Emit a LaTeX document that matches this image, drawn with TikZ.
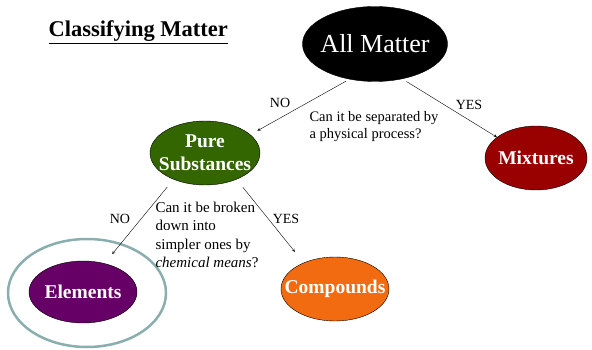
\documentclass[tikz,border=0pt]{standalone}
\usepackage{fontspec}
\setmainfont{Liberation Serif}
\usetikzlibrary{shapes.geometric}

\definecolor{puregreen}{HTML}{336600}
\definecolor{mixred}{HTML}{990000}
\definecolor{elempurple}{HTML}{660066}
\definecolor{comporange}{HTML}{F26B10}
\definecolor{ringgrey}{HTML}{8AADAE}

\begin{document}
\begin{tikzpicture}[x=1pt,y=-1pt,>=stealth,
  blob/.style={ellipse,draw=black,thin,inner sep=0pt},
  blobtext/.style={text=white,font=\fontsize{19.5}{23}\selectfont\bfseries,align=center},
  answer/.style={font=\fontsize{14}{16}\selectfont},
  question/.style={font=\fontsize{14.5}{17}\selectfont,align=left,anchor=west}]
\useasboundingbox (0,0) rectangle (592,350);

 \node[anchor=base west,font=\fontsize{22.5}{27}\selectfont\bfseries] (title) at (45,37) {\underline{Classifying Matter}};

 % the tree
 \node[blob,fill=black,minimum width=145pt,minimum height=75pt,
   label={[text=white,font=\fontsize{26}{30}\selectfont]center:All Matter}] (all) at (375,44) {};
 \node[blob,fill=mixred,minimum width=102pt,minimum height=64pt,
   label={[blobtext]center:Mixtures}] (mix) at (536,158) {};
 \node[blob,fill=puregreen,minimum width=110pt,minimum height=64pt,
   label={[blobtext]center:Pure\\Substances}] (pure) at (205,153) {};
 \node[draw=ringgrey,line width=2.5pt,ellipse,minimum width=158pt,minimum height=108pt] (ring) at (87,293) {};
 \node[blob,fill=elempurple,minimum width=108pt,minimum height=62pt,
   label={[blobtext]center:Elements}] (elem) at (83,292) {};
 \node[blob,fill=comporange,minimum width=108pt,minimum height=64pt,
   label={[blobtext]center:Compounds}] (comp) at (335,289) {};

 \draw[->,shorten <=4pt,shorten >=8pt] (all.234) -- (pure.22);
 \draw[->,shorten <=5pt] (all.308) -- (mix.152);
 \draw[->,shorten <=10pt,shorten >=12pt] (pure.220) -- (elem.53);
 \draw[->,shorten <=10pt,shorten >=14pt] (pure.320) -- (comp.140);

 % yes / no and the questions
 \node[answer] (no1) at (280,103) {NO};
 \node[answer] (yes1) at (469,105) {YES};
 \node[question] (q1) at (306,127) {Can it be separated by\\a physical process?};
 \node[answer] (no2) at (120,219) {NO};
 \node[answer] (yes2) at (286,219) {YES};
 \node[question,font=\fontsize{15}{18.5}\selectfont] (q2) at (152,235) {Can it be broken\\down into\\simpler ones by\\\textit{chemical means}?};
\end{tikzpicture}
\end{document}
